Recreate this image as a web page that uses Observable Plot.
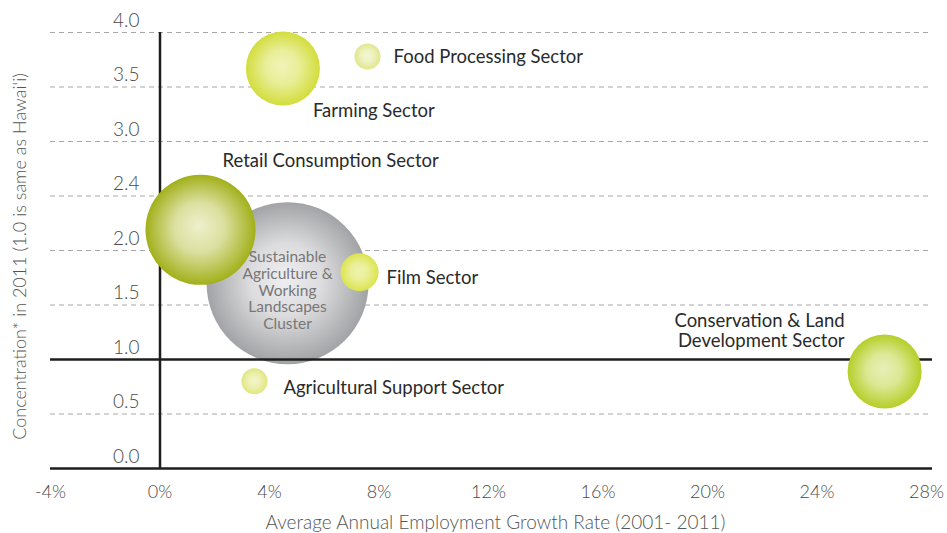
<!DOCTYPE html>
<html><head><meta charset="utf-8">
<script src="https://cdn.jsdelivr.net/npm/d3@7"></script>
<script src="https://cdn.jsdelivr.net/npm/@observablehq/plot@0.6"></script>
<style>body{margin:0;background:#fff;} #chart{width:947px;height:533px;}</style>
</head><body><div id="chart"></div>
<script>
// ---- data ----
const sectors = ["Retail Consumption Sector", "Sustainable Agriculture & Working Landscapes Cluster", "Food Processing Sector", "Farming Sector", "Film Sector", "Agricultural Support Sector", "Conservation & Land Development Sector"];
const displayLabels = ["Retail Consumption Sector", "Sustainable\nAgriculture &\nWorking\nLandscapes\nCluster", "Food Processing Sector", "Farming Sector", "Film Sector", "Agricultural Support Sector", "Conservation & Land\nDevelopment Sector"];
const growth = [1.48, 4.66, 7.58, 4.49, 7.29, 3.45, 26.47];        // % avg annual employment growth
const concentration = [2.19, 1.70, 3.78, 3.67, 1.80, 0.80, 0.89]; // location quotient
const employment = [3030, 6560, 170, 1370, 360, 170, 1370];      // bubble size (relative)
const xTicks = [-4, 0, 4, 8, 12, 16, 20, 24, 28];
const yTicks = [0, 0.5, 1, 1.5, 2, 2.5, 3, 3.5, 4];
const yTickLabels = ["0.0", "0.5", "1.0", "1.5", "2.0", "2.4", "3.0", "3.5", "4.0"];
const xTitle = "Average Annual Employment Growth Rate (2001- 2011)";
const yTitle = "Concentration* in 2011 (1.0 is same as Hawai\u2018i)";

// ---- styles ----
const gradients = [
  ["#eef0cc", "#a2b01a"], // retail (olive)
  ["#efeff1", "#a2a3a6"], // cluster (gray)
  ["#f4f6d2", "#e0e68e"], // food
  ["#f0f4b8", "#d3dd3c"], // farming
  ["#eff3b0", "#dbe44c"], // film
  ["#f3f5c6", "#e0e680"], // ag support
  ["#e8f0b8", "#b6ce28"]  // conservation
];
const labelLayout = [
  {dx: 22, dy: -69, anchor: "start", size: 18.5, color: "#2a2a2a"},
  {dx: 0, dy: 7, anchor: "middle", size: 15.5, color: "#777"},
  {dx: 26, dy: 0, anchor: "start", size: 18.5, color: "#2a2a2a"},
  {dx: 30, dy: 42, anchor: "start", size: 18.5, color: "#2a2a2a"},
  {dx: 27, dy: 5, anchor: "start", size: 18.5, color: "#2a2a2a"},
  {dx: 29, dy: 6, anchor: "start", size: 18.5, color: "#2a2a2a"},
  {dx: -40, dy: -41, anchor: "end", size: 18.5, color: "#2a2a2a"}
];

const data = sectors.map((s, i) => ({i, name: s, x: growth[i], y: concentration[i], size: employment[i], label: displayLabels[i], fill: `url(#grad${i})`}));
const back = data.filter(d => d.i < 2);
const front = data.filter(d => d.i >= 2);

const labelMarks = data.map((d, i) => Plot.text([d], {
  x: "x", y: "y", text: "label",
  dx: labelLayout[i].dx, dy: labelLayout[i].dy,
  textAnchor: labelLayout[i].anchor, lineAnchor: "middle",
  fontSize: labelLayout[i].size, fill: labelLayout[i].color,
  lineHeight: i === 1 ? 1.07 : 1.08,
  letterSpacing: "0.2px",
  fontFamily: "Lato"
}));

const svg = Plot.plot({
  width: 947, height: 533,
  marginLeft: 50, marginRight: 21, marginTop: 32, marginBottom: 65,
  style: {fontFamily: "Lato", background: "#fff"},
  x: {domain: [-4, 28]},
  y: {domain: [0, 4]},
  r: {type: "sqrt", domain: [0, 6560], range: [0, 81]},
  color: {type: "identity"},
  marks: [
    Plot.ruleY(yTicks.filter(v => v > 0), {stroke: "#a8a8a8", strokeDasharray: "5,4", strokeWidth: 1, insetRight: -6}),
    Plot.ruleY([0], {stroke: "#1e1e1e", strokeWidth: 2.5, insetRight: -6}),
    Plot.ruleX([0], {y1: 0, y2: 4, stroke: "#1e1e1e", strokeWidth: 2.5}),
    Plot.dot(back, {x: "x", y: "y", r: "size", fill: "fill", stroke: null}),
    Plot.ruleY([1], {stroke: "#1e1e1e", strokeWidth: 2.5, insetRight: -6}),
    Plot.dot(front, {x: "x", y: "y", r: "size", fill: "fill", stroke: null}),
    Plot.axisX({ticks: xTicks, tickFormat: d => d + "%", tickSize: 0, tickPadding: 17, fontSize: 18, fill: "#4a4a4a", fontWeight: 300, label: null}),
    Plot.axisY({ticks: yTicks, tickFormat: d => yTickLabels[yTicks.indexOf(d)], tickSize: 0, tickPadding: 0, dx: 89, dy: -12, fontSize: 19, fill: "#4a4a4a", fontWeight: 300, label: null}),
    Plot.text([xTitle], {frameAnchor: "bottom", dy: 54, dx: 7, lineAnchor: "middle", textAnchor: "middle", fontSize: 19, fill: "#555", fontWeight: 300, letterSpacing: "1.8px"}),
    Plot.text([yTitle], {frameAnchor: "left", rotate: -90, dx: -30, dy: 6, lineAnchor: "middle", textAnchor: "middle", fontSize: 18, fill: "#555", fontWeight: 300, letterSpacing: "1.3px"}),
    ...labelMarks
  ]
});

// radial gradient definitions for the bubbles
const defs = d3.select(svg).insert("defs", ":first-child");
gradients.forEach(([inner, outer], i) => {
  const g = defs.append("radialGradient").attr("id", `grad${i}`)
    .attr("cx", "50%").attr("cy", "50%").attr("r", "50%").attr("fx", "48%").attr("fy", "46%");
  g.append("stop").attr("offset", "0%").attr("stop-color", inner);
  g.append("stop").attr("offset", "45%").attr("stop-color", d3.interpolateRgb(inner, outer)(0.25));
  g.append("stop").attr("offset", "100%").attr("stop-color", outer);
});

document.getElementById("chart").appendChild(svg);
</script>
</body></html>
